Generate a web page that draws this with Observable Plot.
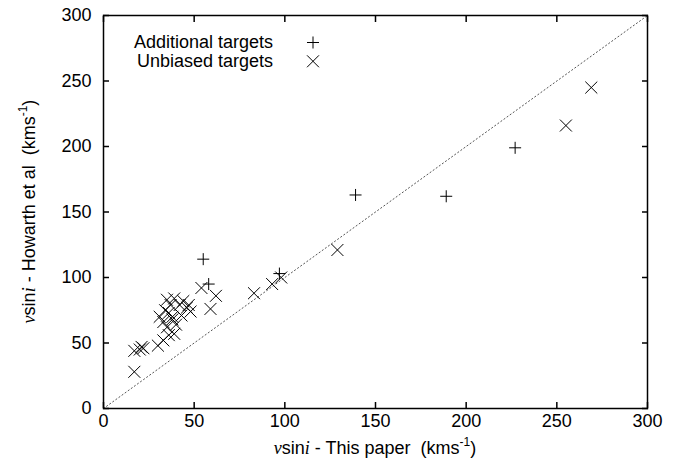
<!DOCTYPE html>
<html><head><meta charset="utf-8">
<script src="https://cdn.jsdelivr.net/npm/d3@7"></script>
<script src="https://cdn.jsdelivr.net/npm/@observablehq/plot@0.6"></script>
<style>body{margin:0;background:#fff} svg{display:block}</style>
</head><body><div id="chart"></div>
<script>
// Additional targets (+)
const additionalX = [55, 58, 97, 139, 189, 227];
const additionalY = [114, 95, 103, 163, 162, 199];
// Unbiased targets (x)
const unbiasedX = [17, 17, 20, 21, 22, 30, 33, 36, 39, 31, 33, 34, 35, 37, 38, 39, 42, 43, 44, 46, 47, 48, 38, 36, 40, 35, 54, 59, 62, 83, 93, 98, 129, 255, 269];
const unbiasedY = [28, 44, 45, 47, 46, 48, 52, 56, 57, 70, 66, 75, 62, 79, 70, 84, 79, 71, 82, 77, 79, 74, 68, 73, 64, 83, 92, 76, 86, 88, 95, 100, 121, 216, 245];
const xTicks = [0, 50, 100, 150, 200, 250, 300];
const yTicks = [0, 50, 100, 150, 200, 250, 300];
const diagonal = [0, 300];
const legendLabels = ["Additional targets", "Unbiased targets"];
const legendSymbols = ["plus", "times"];

const font = "'Liberation Sans', Arial, Helvetica, sans-serif";
const W = 678, H = 466, mL = 103, mR = 31, mT = 15, mB = 58;
const rPlus = 3.95, rTimes = 5.5;

const chart = Plot.plot({
  width: W, height: H,
  marginLeft: mL, marginRight: mR, marginTop: mT, marginBottom: mB,
  style: {fontFamily: font, fontSize: "18px", color: "black", background: "white"},
  x: {domain: [0, 300]},
  y: {domain: [0, 300]},
  marks: [
    Plot.line(diagonal, {x: d => d, y: d => d, stroke: "#555", strokeWidth: 1, strokeDasharray: "1.2,2.6"}),
    Plot.dot(d3.range(unbiasedX.length), {x: i => unbiasedX[i], y: i => unbiasedY[i], symbol: "times", r: rTimes, stroke: "black", strokeWidth: 1}),
    Plot.dot(d3.range(additionalX.length), {x: i => additionalX[i], y: i => additionalY[i], symbol: "plus", r: rPlus, stroke: "black", strokeWidth: 1}),
    Plot.axisX({ticks: xTicks, anchor: "bottom", tickSize: -6, tickPadding: 12, label: null, strokeWidth: 1.5}),
    Plot.axisX({ticks: xTicks, anchor: "top", tickSize: -6, tickFormat: () => "", label: null, strokeWidth: 1.5}),
    Plot.axisY({ticks: yTicks, anchor: "left", tickSize: -6, tickPadding: 18, label: null, strokeWidth: 1.5}),
    Plot.axisY({ticks: yTicks, anchor: "right", tickSize: -6, tickFormat: () => "", label: null, strokeWidth: 1.5}),
    Plot.frame({stroke: "black", strokeWidth: 1.5})
  ]
});
document.getElementById("chart").appendChild(chart);

const svg = d3.select(chart);
// Axis titles
function addLabel(g, rest) {
  g.append("tspan").attr("font-family", "'Liberation Serif', 'Times New Roman', serif").attr("font-style", "italic").text("v");
  g.append("tspan").text("sin");
  g.append("tspan").attr("font-family", "'Liberation Serif', 'Times New Roman', serif").attr("font-style", "italic").text("i");
  g.append("tspan").text(rest);
  g.append("tspan").attr("font-size", 12).attr("dy", -8).text("-1");
  g.append("tspan").attr("dy", 8).text(")");
}
const xl = svg.append("text").attr("x", (mL + W - mR) / 2).attr("y", 454)
  .attr("text-anchor", "middle").attr("font-family", font).attr("font-size", 18)
  .style("white-space", "pre").attr("fill", "black");
addLabel(xl, " - This paper  (kms");
const yl = svg.append("text").attr("transform", `translate(35,${(mT + H - mB) / 2}) rotate(-90)`)
  .attr("text-anchor", "middle").attr("font-family", font).attr("font-size", 18)
  .style("white-space", "pre").attr("fill", "black");
addLabel(yl, " - Howarth et al  (kms");

// Legend
const symSize = {plus: Math.PI * rPlus * rPlus, times: Math.PI * rTimes * rTimes};
const symType = {plus: d3.symbolPlus, times: d3.symbolTimes};
legendLabels.forEach((lab, i) => {
  const yy = 42.5 + i * 18.8;
  svg.append("text").attr("x", 273).attr("y", yy + 5.5).attr("text-anchor", "end")
    .attr("font-family", font).attr("font-size", 18).attr("fill", "black").text(lab);
  svg.append("path").attr("transform", `translate(313,${yy})`)
    .attr("d", d3.symbol(symType[legendSymbols[i]], symSize[legendSymbols[i]])())
    .attr("fill", "none").attr("stroke", "black").attr("stroke-width", 1);
});
</script></body></html>
